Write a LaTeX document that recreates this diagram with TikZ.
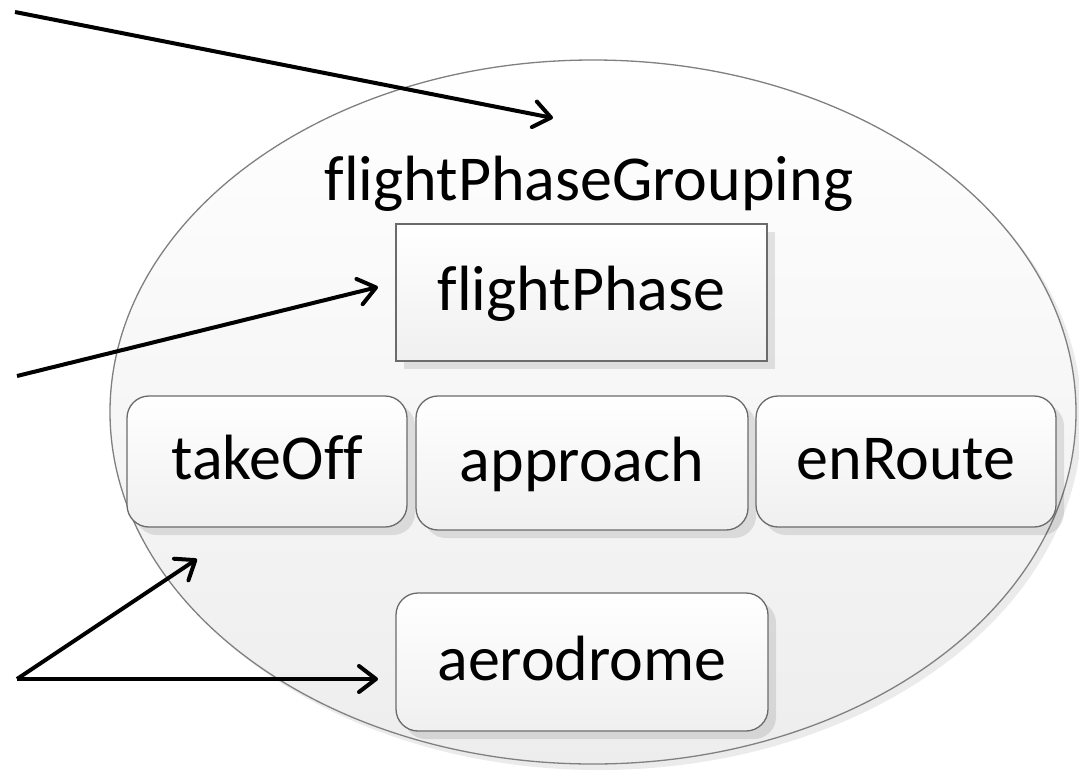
\documentclass[tikz,border=0pt]{standalone}
\usepackage{fontspec}
\setmainfont[Ligatures={NoCommon}]{Carlito}
\usetikzlibrary{shapes.geometric,shadows,arrows.meta}
\begin{document}
\begin{tikzpicture}[x=1pt,y=-1pt,
  grp/.style={ellipse, draw=black!50, line width=1.3pt, top color=white, bottom color=black!7,
    minimum width=966pt, minimum height=704pt, inner sep=0pt,
    drop shadow={shadow xshift=6pt, shadow yshift=-6pt, fill=black, opacity=0.08}},
  box/.style={draw=black!58, line width=1.3pt, top color=white, bottom color=black!6,
    inner sep=0pt, font=\fontsize{64}{70}\selectfont, text height=44pt, text depth=8pt,
    drop shadow={shadow xshift=8pt, shadow yshift=-8pt, fill=black, opacity=0.10}},
  rbox/.style={box, rounded corners=22pt},
  title/.style={font=\fontsize{64}{70}\selectfont, inner sep=0pt, text height=44pt, text depth=8pt},
  arr/.style={line width=4pt, -{Straight Barb[length=17pt,width=26pt,round]}}
]
\useasboundingbox (0,0) rectangle (1079,774);
\node[grp] (g) at (593,412) {};
\node[title] (gt) at (589,182) {flightPhaseGrouping};
\node[box, minimum width=371pt, minimum height=137pt] (fp) at (581.5,292.5) {flightPhase};
\node[rbox, minimum width=280pt, minimum height=131pt] (to) at (267,461.5) {takeOff};
\node[rbox, minimum width=332pt, minimum height=134pt] (ap) at (582,463) {approach};
\node[rbox, minimum width=300pt, minimum height=131pt] (er) at (906,461.5) {enRoute};
\node[rbox, minimum width=372pt, minimum height=138pt] (ae) at (582,662) {aerodrome};
\coordinate (s1) at (15,12);
\coordinate (t1) at (553,118);
\coordinate (s2) at (17,376);
\coordinate (t2) at (378,287);
\coordinate (s3) at (17,679);
\coordinate (t3) at (197,559);
\coordinate (t4) at (378,679);
\draw[arr] (s1) -- (t1);
\draw[arr] (s2) -- (t2);
\draw[arr] (s3) -- (t3);
\draw[arr] (s3) -- (t4);
\end{tikzpicture}
\end{document}
